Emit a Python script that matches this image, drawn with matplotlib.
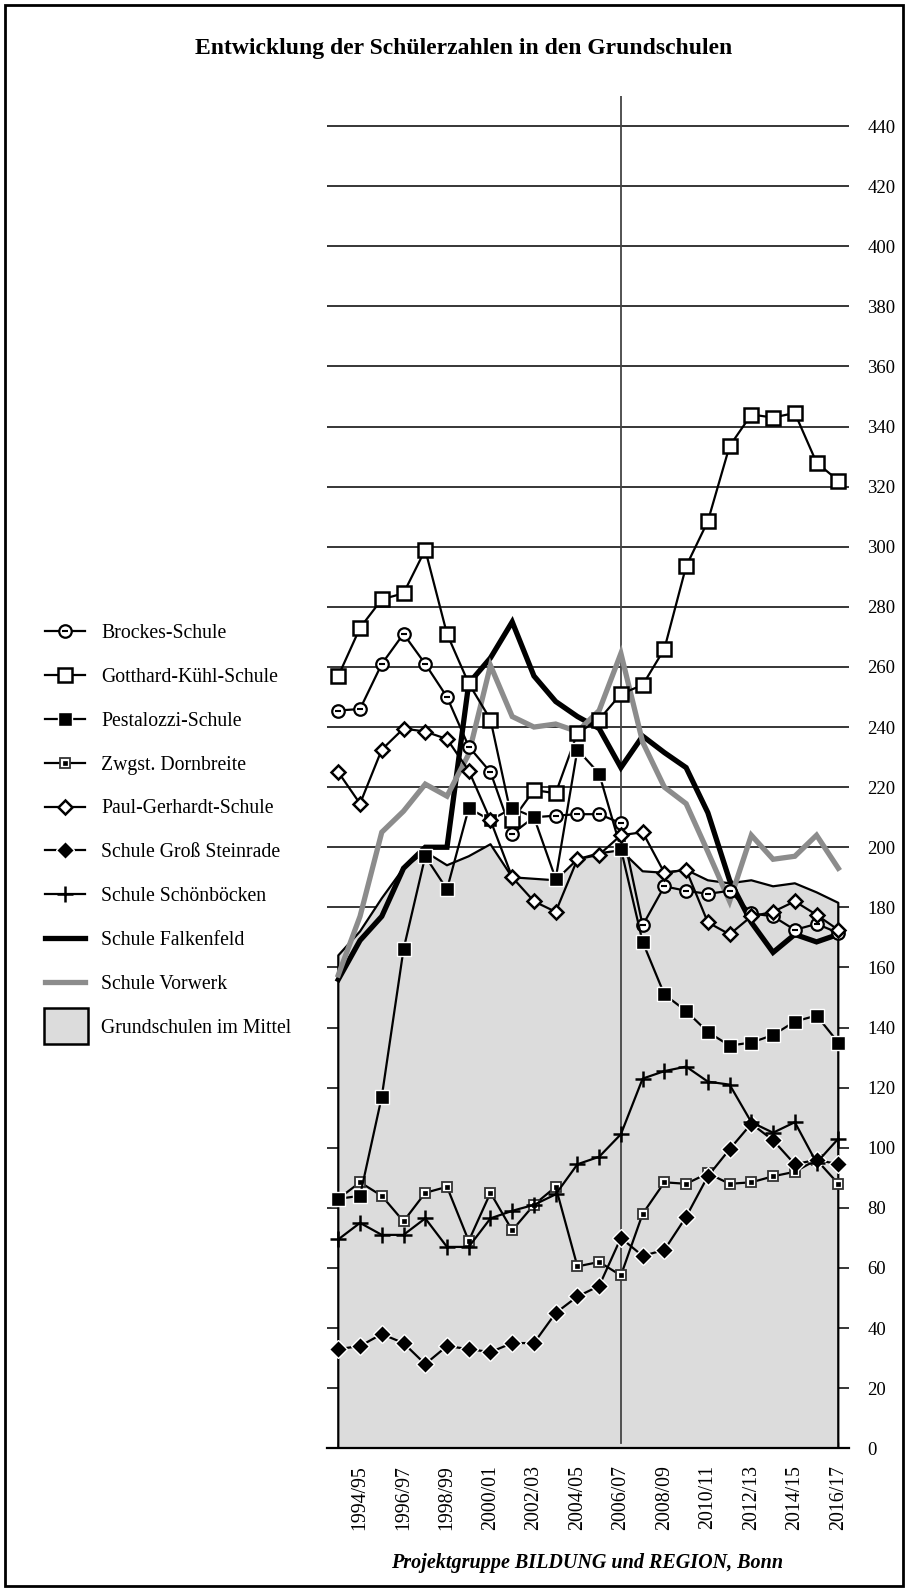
import matplotlib as mpl
mpl.use('Agg')
import matplotlib.pyplot as plt
from matplotlib.patches import Rectangle
from matplotlib.legend_handler import HandlerPatch

plt.rcParams['font.family'] = ['Liberation Serif', 'DejaVu Serif']

# school years (only every second one gets a label)
years = ['1993/94', '1994/95', '1995/96', '1996/97', '1997/98', '1998/99',
         '1999/00', '2000/01', '2001/02', '2002/03', '2003/04', '2004/05',
         '2005/06', '2006/07', '2007/08', '2008/09', '2009/10', '2010/11',
         '2011/12', '2012/13', '2013/14', '2014/15', '2015/16', '2016/17']

brockes = [245.5, 246, 261, 271, 261, 250, 233.5, 225, 204.5, 210, 210.5, 211,
           211, 208, 174, 187, 185.5, 184.5, 185.5, 178, 177, 172.5, 174.5, 171.5]
gotthard = [257, 273, 282.5, 284.5, 299, 271, 254.5, 242.5, 209, 219, 218, 238,
            242.5, 251, 254, 266, 293.5, 308.5, 333.5, 344, 343, 344.5, 328, 322]
pestalozzi = [83, 84, 117, 166, 197, 186, 213, 209, 213, 210, 189.5, 232.5,
              224.5, 199.5, 168.5, 151, 145.5, 138.5, 134, 135, 137.5, 142, 144, 135]
dornbreite = [83, 88.5, 84, 75.5, 85, 87, 69, 85, 72.5, 81, 87, 60.5,
              62, 57.5, 78, 88.5, 88, 91.5, 88, 88.5, 90.5, 92, 96, 88]
paul_gerhardt = [225, 214.5, 232.5, 239.5, 238.5, 236, 225.5, 209, 190, 182, 178.5, 196,
                 197.5, 204, 205, 191.5, 192.5, 175, 171, 177, 178.5, 182, 177.5, 172.5]
gross_steinrade = [33, 34, 38, 35, 28, 34, 33, 32, 35, 35, 45, 50.5,
                   54, 70, 64, 66, 77, 90.5, 99.5, 108, 102.5, 94.5, 96, 94.5]
schoenboecken = [69.5, 75, 71, 71, 76.5, 67, 67, 76.5, 79, 81, 84.5, 94.5,
                 97, 104.5, 123, 125.5, 127, 122, 121, 108.5, 105, 108.5, 95, 103]
falkenfeld = [156, 169, 177, 193, 200, 200, 254.5, 263, 275, 257, 248.5, 243.5,
              239.5, 226.5, 237, 231.5, 226.5, 211.5, 189, 175, 165, 171, 168.5, 171]
vorwerk = [157.5, 177, 205, 212, 221, 217, 231, 260.5, 243.5, 240, 241, 238.5,
           245.5, 264.5, 235, 220, 214.5, 198.5, 182, 204, 196, 197, 204, 193]
mittel = [164, 172, 183, 193, 198.5, 194, 197, 201, 190, 189.5, 189, 196,
          198, 199, 192, 191.5, 192.5, 189, 188, 189, 187, 188, 185, 181.5]

x = list(range(len(years)))

fig = plt.figure(figsize=(9.08, 15.92), dpi=100)
ax = fig.add_axes([0.3606, 0.0903, 0.5746, 0.8494])

# grey area = average of all primary schools
area = ax.fill_between(x, 0, mittel, facecolor='#dcdcdc', edgecolor='none', zorder=1)
ax.plot([x[0]] + x + [x[-1]], [0] + mittel + [0], color='black', lw=1.6, zorder=1.5)
ax.axvline(13, ymin=0.004, color='#444444', lw=1.3, zorder=2)

# thick lines without markers
l_falk, = ax.plot(x, falkenfeld, color='black', lw=3.8, zorder=3, solid_joinstyle='miter')
l_vorw, = ax.plot(x, vorwerk, color='#8c8c8c', lw=3.8, zorder=3.2, solid_joinstyle='miter')

lw = 1.6
l_brock, = ax.plot(x, brockes, color='black', lw=lw, marker='o', ms=9,
                   mfc='white', mec='black', mew=1.6, zorder=4)
l_brock2, = ax.plot(x, brockes, ls='none', marker='_', ms=5, mec='black', mew=1.5, zorder=4.1)
l_gott, = ax.plot(x, gotthard, color='black', lw=lw, marker='s', ms=9.5,
                  mfc='white', mec='black', mew=1.8, zorder=4)
l_pest, = ax.plot(x, pestalozzi, color='black', lw=lw, marker='s', ms=10,
                  mfc='black', mec='white', mew=1.0, zorder=4.2)
l_dorn, = ax.plot(x, dornbreite, color='black', lw=lw, marker='s', ms=7.5,
                  mfc='white', mec='#333333', mew=1.3, zorder=4)
l_dorn2, = ax.plot(x, dornbreite, ls='none', marker='s', ms=3.5, mfc='black',
                   mec='black', mew=0.5, zorder=4.1)
l_paul, = ax.plot(x, paul_gerhardt, color='black', lw=lw, marker='D', ms=7.5,
                  mfc='white', mec='black', mew=1.8, zorder=4.3)
l_stein, = ax.plot(x, gross_steinrade, color='black', lw=lw, marker='D', ms=9,
                   mfc='black', mec='white', mew=1.0, zorder=4)
l_schoen, = ax.plot(x, schoenboecken, color='black', lw=lw, marker='+', ms=12,
                    mec='black', mew=1.8, zorder=4)

ax.set_xlim(-0.5, 23.5)
ax.set_ylim(0, 450)

# y axis on the right, grid lines act as ticks
ax.set_yticks(range(0, 441, 20))
ax.yaxis.tick_right()
ax.tick_params(axis='y', length=0, pad=13, labelsize=13.5)
ax.yaxis.grid(True, color='black', lw=1.1)
ax.set_axisbelow(True)

ax.set_xticks(x)
ax.set_xticklabels([y if i % 2 == 1 else '' for i, y in enumerate(years)],
                   rotation=90, fontsize=14.3)
ax.tick_params(axis='x', direction='in', length=4, width=1, pad=12)

for s in ['top', 'left', 'right']:
    ax.spines[s].set_visible(False)
ax.spines['bottom'].set_linewidth(1.6)

# legend
def make_box(legend, orig_handle, xdescent, ydescent, width, height, fontsize):
    return Rectangle((-xdescent - 1, -ydescent - 8), width + 3, height + 16)

box = Rectangle((0, 0), 1, 1, facecolor='#dcdcdc', edgecolor='black', lw=1.8)
handles = [(l_brock, l_brock2), l_gott, l_pest, (l_dorn, l_dorn2), l_paul, l_stein,
           l_schoen, l_falk, l_vorw, box]
labels = ['Brockes-Schule', 'Gotthard-Kühl-Schule', 'Pestalozzi-Schule',
          'Zwgst. Dornbreite', 'Paul-Gerhardt-Schule', 'Schule Groß Steinrade',
          'Schule Schönböcken', 'Schule Falkenfeld', 'Schule Vorwerk',
          'Grundschulen im Mittel']
fig.legend(handles, labels, loc='upper left', bbox_to_anchor=(0.05, 0.608),
           frameon=False, fontsize=14.2, handlelength=2.03, handletextpad=0.8,
           labelspacing=1.26, borderpad=0, borderaxespad=0,
           handler_map={Rectangle: HandlerPatch(patch_func=make_box)})

fig.text(0.5105, 0.9693, 'Entwicklung der Schülerzahlen in den Grundschulen',
         ha='center', va='center', fontsize=17, fontweight='bold')
fig.text(0.647, 0.018, 'Projektgruppe BILDUNG und REGION, Bonn',
         ha='center', va='center', fontsize=14.5, fontweight='bold', style='italic')

# frame around the whole picture
fig.patches.append(Rectangle((0.0055, 0.0038), 0.989, 0.9931, transform=fig.transFigure,
                             fill=False, edgecolor='black', lw=2))

plt.savefig('out.png', dpi=100)
